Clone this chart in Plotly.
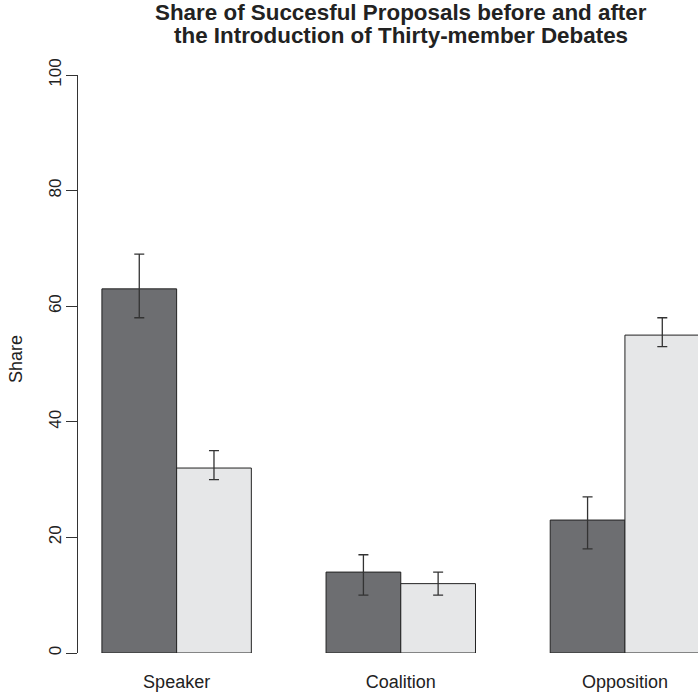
import plotly.graph_objects as go

categories = ["Speaker", "Coalition", "Opposition"]
before = [63, 14, 23]
before_lo = [58, 10, 18]
before_hi = [69, 17, 27]
after = [32, 12, 55]
after_lo = [30, 10, 53]
after_hi = [35, 14, 58]
y_ticks = [0, 20, 40, 60, 80, 100]

FONT = "Liberation Sans, Arial, Helvetica, sans-serif"
DARK = "#6d6e71"
LIGHT = "#e6e7e8"
EDGE = "#222222"
ERR = "#333333"


def err(vals, lo, hi):
    return dict(type="data", symmetric=False,
                array=[h - v for v, h in zip(vals, hi)],
                arrayminus=[v - l for v, l in zip(vals, lo)],
                color=ERR, thickness=1.3, width=5)


fig = go.Figure()
fig.add_trace(go.Bar(x=categories, y=before, name="Before",
                     marker=dict(color=DARK, line=dict(color=EDGE, width=1)),
                     error_y=err(before, before_lo, before_hi)))
fig.add_trace(go.Bar(x=categories, y=after, name="After",
                     marker=dict(color=LIGHT, line=dict(color=EDGE, width=1)),
                     error_y=err(after, after_lo, after_hi)))

fig.update_layout(
    width=698, height=693,
    margin=dict(l=78, r=0, t=75, b=40),
    paper_bgcolor="white", plot_bgcolor="white",
    barmode="group", bargap=1/3, bargroupgap=0,
    showlegend=False,
    font=dict(family=FONT, size=18, color="#222222"),
    xaxis=dict(type="category", range=[-0.440, 2.326],
               showline=False, showgrid=False, zeroline=False,
               ticks="outside", ticklen=12, tickcolor="rgba(0,0,0,0)",
               tickfont=dict(size=18)),
    yaxis=dict(range=[0, 100], tickvals=y_ticks,
               showline=True, linecolor="#333333", linewidth=1,
               ticks="outside", ticklen=11, tickcolor="#333333", tickwidth=1,
               tickangle=-90, ticklabelstandoff=-2,
               showgrid=False, zeroline=False,
               tickfont=dict(size=17)),
    annotations=[
        dict(text="<b>Share of Succesful Proposals before and after</b>",
             xref="paper", yref="paper", x=(401 - 78) / 620, y=1 + (75 - 13) / 578,
             xanchor="center", yanchor="middle", showarrow=False,
             font=dict(size=22.4, family=FONT, color="#222222")),
        dict(text="<b>the Introduction of Thirty-member Debates</b>",
             xref="paper", yref="paper", x=(401 - 78) / 620, y=1 + (75 - 36) / 578,
             xanchor="center", yanchor="middle", showarrow=False,
             font=dict(size=22.4, family=FONT, color="#222222")),
        dict(text="Share", textangle=-90,
             xref="paper", yref="paper", x=(16 - 78) / 620, y=0.5 + 5 / 578,
             xanchor="center", yanchor="middle", showarrow=False,
             font=dict(size=18, family=FONT, color="#222222")),
    ],
)

fig.write_html("out.html", config={"displayModeBar": False},
               post_script="document.body.style.margin='0';document.body.style.overflow='hidden';")
